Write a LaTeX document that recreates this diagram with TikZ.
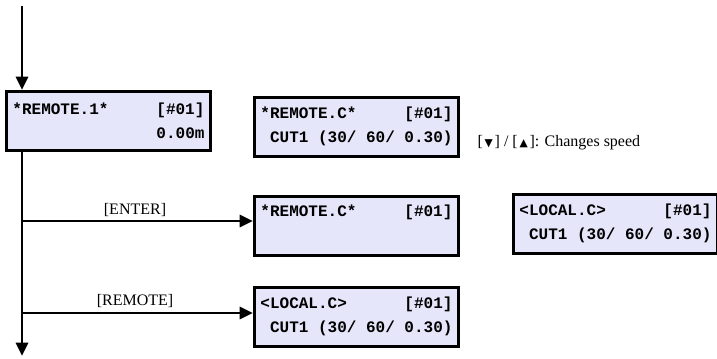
\documentclass[tikz,border=0pt]{standalone}
\usepackage{fontspec}
\setmainfont{Liberation Serif}
\setmonofont{Liberation Mono}
\newfontfamily\symfont{DejaVu Sans}
\usetikzlibrary{arrows.meta}
\definecolor{lcdfill}{RGB}{230,230,250}
\newcommand\lcdrow[2]{\makebox[144pt][l]{#1\hfill#2}}
\newcommand\lsp{\hspace*{7.2pt}}
\newcommand\lcdfont{\ttfamily\bfseries\fontsize{12}{18}\selectfont}
\begin{document}
\begin{tikzpicture}[x=0.75pt,y=-0.75pt,
  lcd/.style={draw=black, line width=2.2pt, fill=lcdfill, inner sep=0pt,
    anchor=north west, minimum width=153pt, minimum height=44pt,
    text width=144pt, align=left, font=\lcdfont},
  conn/.style={line width=2.2pt, -{Triangle[width=9pt,length=10pt]}},
  lbl/.style={font=\fontsize{12}{14}\selectfont, inner sep=1pt}]
\useasboundingbox (0,0) rectangle (717,358);
% boxes
\node[lcd] (b1) at (5,90) {\lcdrow{*REMOTE.1*}{[\#01]}\\\lcdrow{}{0.00m}};
\node[lcd] (b2) at (253,96) {\lcdrow{*REMOTE.C*}{[\#01]}\\\lcdrow{\lsp CUT1\lsp(30/\lsp60/\lsp0.30)}{}};
\node[lcd] (b3) at (253,195) {\lcdrow{*REMOTE.C*}{[\#01]}\\\strut};
\node[lcd] (b4) at (512,193) {\lcdrow{<LOCAL.C>}{[\#01]}\\\lcdrow{\lsp CUT1\lsp(30/\lsp60/\lsp0.30)}{}};
\node[lcd] (b5) at (253,286) {\lcdrow{<LOCAL.C>}{[\#01]}\\\lcdrow{\lsp CUT1\lsp(30/\lsp60/\lsp0.30)}{}};
\node[lbl, anchor=west] (sp) at (476,143)
  {[{\symfont\fontsize{8}{8}\selectfont\,▼\,}] / [{\symfont\fontsize{8}{8}\selectfont\,▲\,}]: Changes speed};
% connectors
\coordinate (top) at (22,6);
\coordinate (bot) at (22,356);
\coordinate (e) at (22,221);
\coordinate (r) at (22,313);
\draw[conn] (top) -- (top |- b1.north);
\draw[conn] (top |- b1.south) -- (bot);
\draw[conn] (e) -- (e -| b3.west);
\draw[conn] (r) -- (r -| b5.west);
\node[lbl] (le) at (135,210) {[ENTER]};
\node[lbl] (lr) at (135,301) {[REMOTE]};
\end{tikzpicture}
\end{document}
